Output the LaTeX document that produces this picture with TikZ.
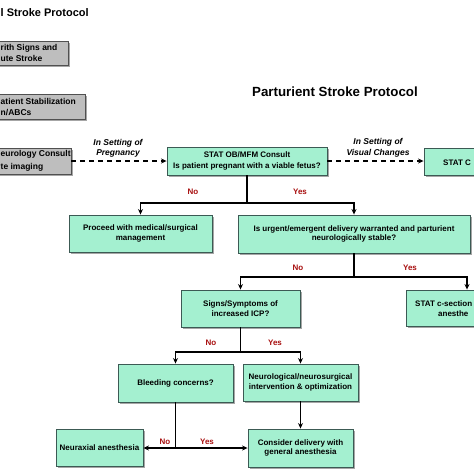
\documentclass[tikz,border=0pt]{standalone}
\usepackage{fontspec}
\setmainfont{Liberation Sans}
\usetikzlibrary{arrows.meta,shadows}
\definecolor{mint}{HTML}{A4F0D0}
\definecolor{edgec}{HTML}{3C5A54}
\definecolor{greyfill}{HTML}{BEBEBE}
\definecolor{greyedge}{HTML}{505050}
\definecolor{labred}{HTML}{A80F0F}
\tikzset{
  greenbox/.style={draw=edgec, fill=mint, line width=0.9pt,
    drop shadow={shadow xshift=1.6pt, shadow yshift=-1.6pt, fill=black, opacity=0.35},
    font=\bfseries\fontsize{8}{9.5}\selectfont, align=center, inner sep=2pt},
  greybox/.style={draw=greyedge, fill=greyfill, line width=0.9pt,
    drop shadow={shadow xshift=1.6pt, shadow yshift=-1.6pt, fill=black, opacity=0.35}},
  gtext/.style={font=\bfseries\fontsize{8.5}{10}\selectfont, anchor=west, inner sep=0pt},
  boxtext/.style={font=\bfseries\fontsize{8}{9.5}\selectfont, anchor=west, inner sep=0pt},
  yn/.style={text=labred, font=\bfseries\fontsize{8}{9}\selectfont, inner sep=0pt},
  setting/.style={font=\bfseries\itshape\fontsize{8.5}{10.5}\selectfont, align=center, inner sep=0pt},
  plainline/.style={line width=1.2pt},
  conn/.style={line width=1.2pt, -{Stealth[length=5.5pt,width=5pt]}},
  dashconn/.style={conn, dash pattern=on 5pt off 4pt}
}
\begin{document}
\begin{tikzpicture}[x=1pt,y=-1pt]
\useasboundingbox (0,0) rectangle (474,474);
\clip (0,0) rectangle (474,474);
\fill[white] (0,0) rectangle (474,474);

% titles
\node[font=\bfseries\fontsize{11}{13}\selectfont, anchor=west, inner sep=0pt] (ltitle) at (0.5,13) {l Stroke Protocol};
\node[font=\bfseries\fontsize{13.3}{15}\selectfont, inner sep=0pt] (title) at (335,92) {Parturient Stroke Protocol};

% grey boxes (cut at the left edge)
\node[greybox, minimum width=120pt, minimum height=24pt] (g1) at (8,53) {};
\node[gtext] (g1a) at (0.5,48) {rith Signs and};
\node[gtext] (g1b) at (0.5,58.5) {ute Stroke};
\node[greybox, minimum width=120pt, minimum height=25pt] (g2) at (25,106.5) {};
\node[gtext] (g2a) at (0.5,101) {atient Stabilization};
\node[gtext] (g2b) at (0.5,113) {n/ABCs};
\node[greybox, minimum width=120pt, minimum height=26pt] (g3) at (11,161) {};
\node[gtext] (g3a) at (0.5,154.5) {eurology Consult};
\node[gtext] (g3b) at (0.5,167) {te imaging};

% green boxes
\node[greenbox, minimum width=160pt, minimum height=28pt, font=\bfseries\fontsize{8}{11}\selectfont] (ob) at (247,161)
  {STAT OB/MFM Consult\\Is patient pregnant with a viable fetus?};
\node[greenbox, minimum width=110pt, minimum height=27pt] (statc) at (479,162) {};
\node[boxtext] (statct) at (443,162.5) {STAT C};
\node[greenbox, minimum width=143pt, minimum height=37pt] (proceed) at (140.5,233.5)
  {Proceed with medical/surgical\\management};
\node[greenbox, minimum width=232pt, minimum height=38pt] (urgent) at (354,234)
  {Is urgent/emergent delivery warranted and parturient\\neurologically stable?};
\node[greenbox, minimum width=119pt, minimum height=37pt] (signs) at (240.5,308.5)
  {Signs/Symptoms of\\increased ICP?};
\node[greenbox, minimum width=122pt, minimum height=36pt] (csec) at (467,308) {};
\node[boxtext] (cseca) at (415,304) {STAT c-section};
\node[boxtext] (csecb) at (438,313.5) {anesthe};
\node[greenbox, minimum width=115pt, minimum height=38pt] (bleed) at (175.5,383)
  {Bleeding concerns?};
\node[greenbox, minimum width=115pt, minimum height=37pt] (neuro) at (300.5,382.5)
  {Neurological/neurosurgical\\intervention \& optimization};
\node[greenbox, minimum width=87pt, minimum height=37pt] (neurax) at (99.5,448)
  {Neuraxial anesthesia};
\node[greenbox, minimum width=105pt, minimum height=38pt] (consider) at (300.5,448)
  {Consider delivery with\\general anesthesia};

% dashed connectors
\draw[dashconn] (g3.east) -- (ob.west);
\draw[dashconn] (ob.east) -- (ob.east -| statc.west);
\node[setting] (set1) at (118,148.5) {In Setting of\\Pregnancy};
\node[setting] (set2) at (378,148) {In Setting of\\Visual Changes};

% tree
\coordinate (j1) at (247,203);
\draw[plainline] (ob.south) -- (j1);
\draw[conn] (j1) -| (proceed.north);
\draw[conn] (j1) -| (urgent.north);
\node[yn] (no1) at (193,192) {No};
\node[yn] (yes1) at (300,192) {Yes};

\coordinate (j2) at (354,277);
\draw[plainline] (urgent.south) -- (j2);
\draw[conn] (j2) -| (signs.north);
\draw[conn] (j2) -| (csec.north);
\node[yn] (no2) at (298,268) {No};
\node[yn] (yes2) at (410,268) {Yes};

\coordinate (j3) at (240.5,352);
\draw[plainline] (signs.south) -- (j3);
\draw[conn] (j3) -| (bleed.north);
\draw[conn] (j3) -| (neuro.north);
\node[yn] (no3) at (211,343) {No};
\node[yn] (yes3) at (275,343) {Yes};

\coordinate (j4) at (175.5,448);
\draw[plainline] (bleed.south) -- (j4);
\draw[conn] (j4) -- (neurax.east);
\draw[conn] (j4) -- (consider.west);
\node[yn] (no4) at (165,442) {No};
\node[yn] (yes4) at (207,442) {Yes};

\draw[conn] (neuro.south) -- (consider.north);
\end{tikzpicture}
\end{document}
